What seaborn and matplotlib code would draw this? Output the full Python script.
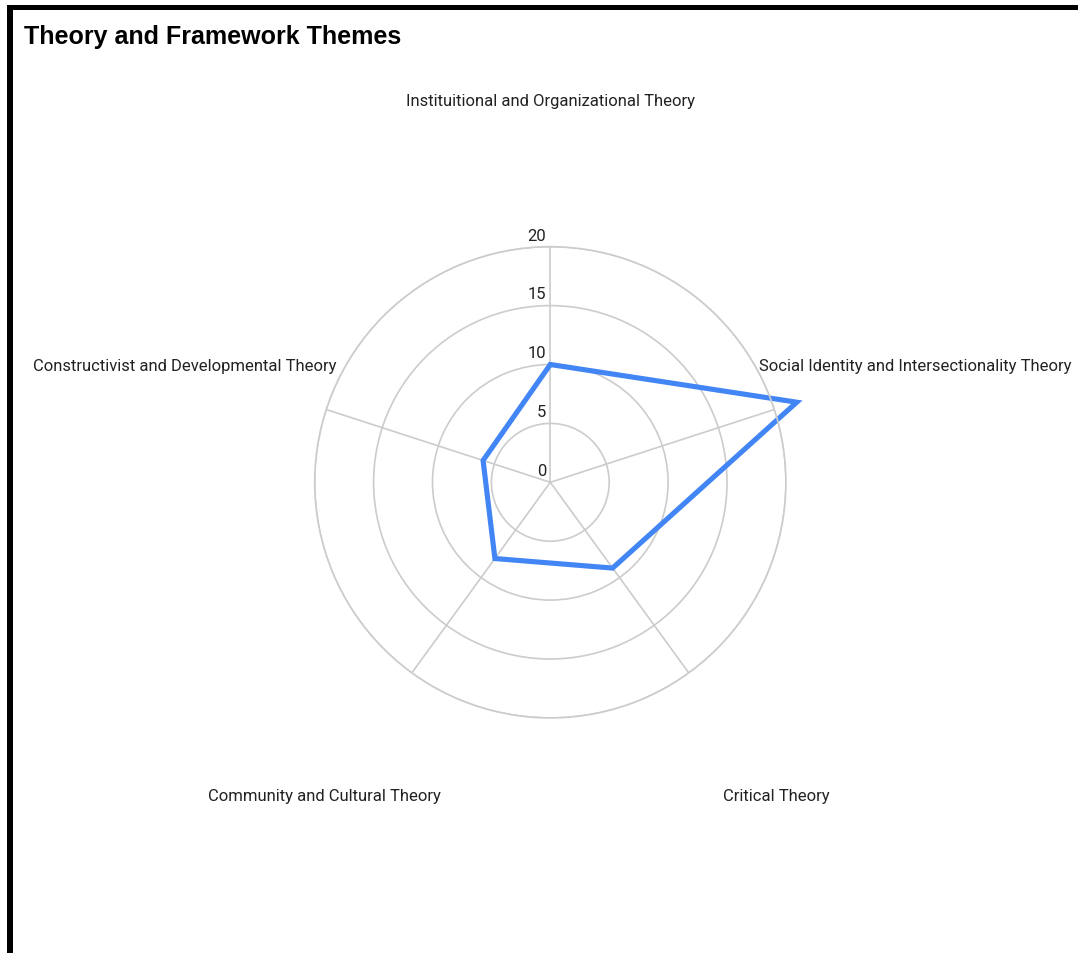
import numpy as np
import pandas as pd
import seaborn as sns
import matplotlib.pyplot as plt
from matplotlib.patches import Rectangle

# data
categories = [
    "Instituitional and Organizational Theory",
    "Social Identity and Intersectionality Theory",
    "Critical Theory",
    "Community and Cultural Theory",
    "Constructivist and Developmental Theory",
]
counts = [10, 22, 9, 8, 6]
r_ticks = [0, 5, 10, 15, 20]

sns.set_theme(style="white")
plt.rcParams['font.family'] = ['Roboto', 'DejaVu Sans']

W, H = 1078, 954
fig = plt.figure(figsize=(W / 100, H / 100), dpi=100)
fig.patch.set_facecolor("white")

# polar axes placed so the centre sits where the reference has it
cx, cy, rad = 550.3, 483.3, 235.6
ax = fig.add_axes([(cx - rad) / W, (H - cy - rad) / H, 2 * rad / W, 2 * rad / H],
                  projection="polar")
ax.set_theta_offset(np.pi / 2)
ax.set_theta_direction(-1)

angles = np.linspace(0, 2 * np.pi, len(categories), endpoint=False)
df = pd.DataFrame({"theta": np.append(angles, angles[0]),
                   "count": counts + counts[:1]})

grid_col = "#cccccc"
ax.set_ylim(0, max(r_ticks))
ax.set_yticks(r_ticks)
ax.set_yticklabels([])
ax.set_xticks(angles)
ax.set_xticklabels([])
ax.grid(True, color=grid_col, linewidth=1.2)
ax.spines["polar"].set_color(grid_col)
ax.spines["polar"].set_linewidth(1.2)
ax.set_facecolor("white")

sns.lineplot(data=df, x="theta", y="count", sort=False, estimator=None,
             color="#4285F4", linewidth=3.7, ax=ax, legend=False)
for ln in ax.lines:
    ln.set_clip_on(False)
    ln.set_solid_joinstyle("miter")
ax.set_xlabel("")
ax.set_ylabel("")

# radial tick labels along the top spoke
for v in r_ticks:
    ax.annotate(str(v), xy=(0, v), xytext=(-3, 3), textcoords="offset points",
                ha="right", va="bottom", fontsize=12, color="#222222",
                annotation_clip=False)

# category labels
label_r = 32.6
for a, name in zip(angles, categories):
    ax.annotate(name, xy=(a, label_r), xytext=(0, -1.5), textcoords="offset points",
                ha="center", va="center", fontsize=12, color="#222222",
                annotation_clip=False)

fig.text(24 / W, 1 - 37 / H, "Theory and Framework Themes", fontsize=18,
         fontweight="bold", family=["Liberation Sans", "DejaVu Sans"],
         ha="left", va="center", color="black")

# black frame lines at top and left
fig.add_artist(Rectangle((7 / W, 1 - 11 / H), 1 - 7 / W, 5 / H,
                         transform=fig.transFigure, color="black", lw=0))
fig.add_artist(Rectangle((7 / W, 0), 6 / W, 1 - 6 / H,
                         transform=fig.transFigure, color="black", lw=0))

fig.savefig("out.png", dpi=100, facecolor="white")
